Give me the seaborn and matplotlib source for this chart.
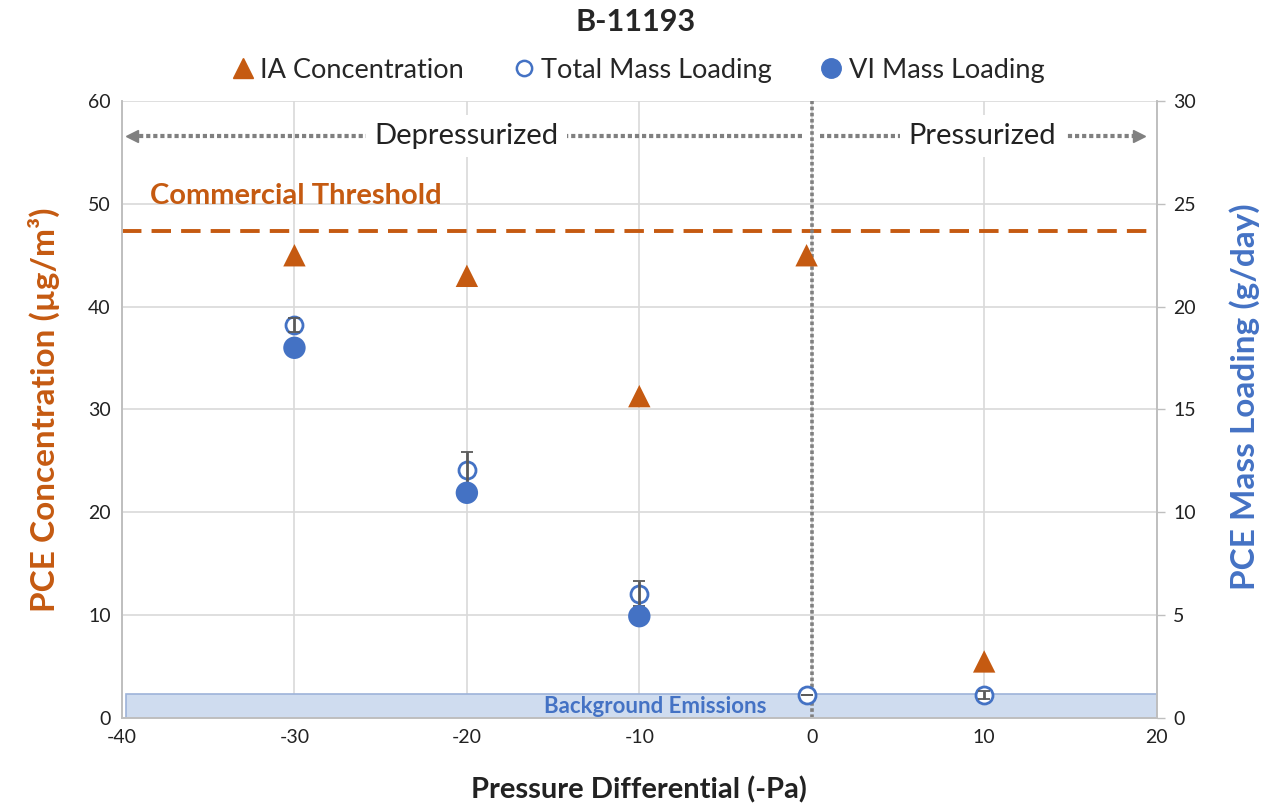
import seaborn as sns
import matplotlib.pyplot as plt
from matplotlib.lines import Line2D

# Data
pressure = [-30, -20, -10, -0.3, 10]
ia_conc = [45.0, 43.0, 31.3, 45.0, 5.5]          # ug/m3, left axis

mass_x = [-30, -20, -10, -0.3, 10]
total_mass = [19.1, 12.05, 6.05, 1.1, 1.1]        # g/day, right axis
total_err = [0.35, 0.9, 0.6, 0.0, 0.2]

vi_x = [-30, -20, -10]
vi_mass = [18.0, 10.95, 4.95]

threshold = 47.4
background = 2.3   # on left axis scale

orange = "#C55A11"
blue = "#4472C4"
grey = "#808080"

sns.set_theme(style="white")
plt.rcParams['font.family'] = ['Lato', 'DejaVu Sans']
plt.rcParams['axes.unicode_minus'] = False

fig = plt.figure(figsize=(12.71, 8.08), dpi=100)
ax = fig.add_axes([0.096, 0.1114, 0.814, 0.7636])
ax2 = ax.twinx()

# gridlines
ax.set_xlim(-40, 20)
ax.set_ylim(0, 60)
ax2.set_ylim(0, 30)
ax.set_xticks(range(-40, 21, 10))
ax.set_yticks(range(0, 61, 10))
ax2.set_yticks(range(0, 31, 5))
ax.grid(True, color="#D9D9D9", lw=1.2)
ax.set_axisbelow(True)

# background emissions band
ax.axhspan(0, background, xmin=0.004, xmax=1, facecolor="#CFDCEF",
           edgecolor="#9DB3D9", lw=1.2, zorder=1)
ax.text(-9.1, background / 2, "Background Emissions", color=blue,
        fontsize=16, fontweight="bold", ha="center", va="center", zorder=2)

# threshold
ax.axhline(threshold, color=orange, lw=2.8, dashes=(5, 2.6), zorder=2)
ax.text(-38.4, 50.8, "Commercial Threshold", color=orange, fontsize=21,
        fontweight="bold", ha="left", va="center")

# vertical divider at 0
ax.axvline(0, color=grey, lw=2.6, ls=(0, (1, 0.7)), zorder=2)

# depressurized / pressurized arrows
yarr = 56.6
ax.plot([-39.4, -0.5], [yarr, yarr], color=grey, lw=3, ls=(0, (1, 0.7)))
ax.plot([-39.4], [yarr], marker="<", color=grey, ms=9)
ax.text(-20, yarr, "Depressurized", fontsize=21, ha="center", va="center",
        color="#222222", bbox=dict(facecolor="white", edgecolor="none", pad=6))
ax.plot([0.5, 19.0], [yarr, yarr], color=grey, lw=3, ls=(0, (1, 0.7)))
ax.plot([19.0], [yarr], marker=">", color=grey, ms=9)
ax.text(9.9, yarr, "Pressurized", fontsize=21, ha="center", va="center",
        color="#222222", bbox=dict(facecolor="white", edgecolor="none", pad=6))

# points
sns.scatterplot(x=pressure, y=ia_conc, marker="^", s=260, color=orange,
                edgecolor="none", ax=ax, zorder=4, legend=False)
sns.scatterplot(x=mass_x, y=total_mass, marker="o", s=150, facecolor="white",
                edgecolor=blue, linewidth=2, ax=ax2, zorder=3, legend=False)
ax2.errorbar(mass_x, total_mass, yerr=total_err, fmt="none", ecolor="#595959",
             elinewidth=2, capsize=4, capthick=1.3, zorder=4)
sns.scatterplot(x=vi_x, y=vi_mass, marker="o", s=260, color=blue,
                edgecolor="none", ax=ax2, zorder=5, legend=False)

# axes styling
for a in (ax, ax2):
    a.spines["top"].set_visible(False)
    for side in ("left", "right", "bottom"):
        a.spines[side].set_color("#BFBFBF")
        a.spines[side].set_linewidth(1.2)
ax.tick_params(axis="both", labelsize=14, colors="#222222", length=0, pad=8)
ax2.tick_params(axis="y", labelsize=14, colors="#222222", length=6,
                width=1, pad=6)
ax2.tick_params(axis="y", color="#BFBFBF")

ax.set_xlabel("Pressure Differential (-Pa)", fontsize=21, fontweight="bold",
              color="#222222", labelpad=22)
ax.set_ylabel("PCE Concentration (µg/m³)", fontsize=24, fontweight="bold",
              color=orange, labelpad=20)
ax2.set_ylabel("PCE Mass Loading (g/day)", fontsize=24, fontweight="bold",
               color=blue, labelpad=16)
ax2.yaxis.set_label_coords(1.07, 0.52)

fig.suptitle("B-11193", fontsize=22, fontweight="bold", y=0.99)

handles = [
    Line2D([], [], marker="^", ls="none", color=orange, ms=14),
    Line2D([], [], marker="o", ls="none", mfc="white", mec=blue, mew=1.8, ms=11),
    Line2D([], [], marker="o", ls="none", color=blue, ms=14),
]
labels = ["IA Concentration", "Total Mass Loading", "VI Mass Loading"]
fig.legend(handles, labels, loc="center", bbox_to_anchor=(0.5, 0.913), ncol=3,
           frameon=False, fontsize=19.5, handletextpad=0.05, columnspacing=1.6,
           handlelength=1.2)

fig.savefig("out.png", dpi=100)
